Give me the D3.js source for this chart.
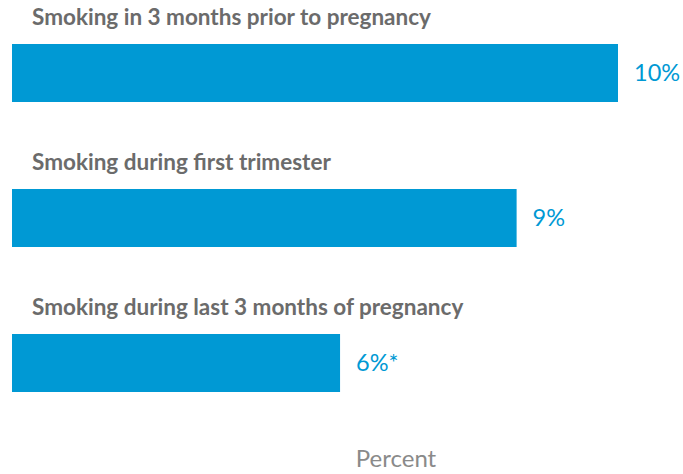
<!DOCTYPE html>
<html><head><meta charset="utf-8">
<script src="https://cdn.jsdelivr.net/npm/d3@7"></script>
<style>body{margin:0;background:#fff;} svg{display:block;}</style>
</head><body>
<svg id="c" width="683" height="474"></svg>
<script>
const categories = ["Smoking in 3 months prior to pregnancy", "Smoking during first trimester", "Smoking during last 3 months of pregnancy"];
const values = [10.4, 8.66, 5.63];
const valueLabels = ["10%", "9%", "6%*"];
const axisTitle = "Percent";

const svg = d3.select("#c");
const x = d3.scaleLinear().domain([0, 10.4]).range([12, 618]);
const y = d3.scaleBand().domain(categories).range([44, 392]).paddingInner(0.6).paddingOuter(0);

const g = svg.append("g");
g.selectAll("rect").data(categories).join("rect")
  .attr("x", x(0)).attr("y", d => y(d))
  .attr("width", (d,i) => x(values[i]) - x(0))
  .attr("height", y.bandwidth())
  .attr("fill", "#0099D4");

g.selectAll("text.cat").data(categories).join("text").attr("class","cat")
  .attr("x", 32).attr("y", d => y(d) - 19)
  .attr("font-family", "Lato, sans-serif").attr("font-weight", "bold")
  .attr("font-size", 22.5).attr("fill", "#6b6b6b").text(d => d);

g.selectAll("text.val").data(categories).join("text").attr("class","val")
  .attr("x", (d,i) => x(values[i]) + 16).attr("y", d => y(d) + y.bandwidth()/2)
  .attr("dy", "0.35em")
  .attr("font-family", "Lato, sans-serif")
  .attr("font-size", 23.5).attr("fill", "#0099D4").text((d,i) => valueLabels[i]);

svg.append("text").attr("x", 396).attr("y", 467).attr("text-anchor","middle")
  .attr("font-family", "Lato, sans-serif").attr("font-size", 24).attr("fill", "#8a8a8a").text(axisTitle);
</script>
</body></html>
